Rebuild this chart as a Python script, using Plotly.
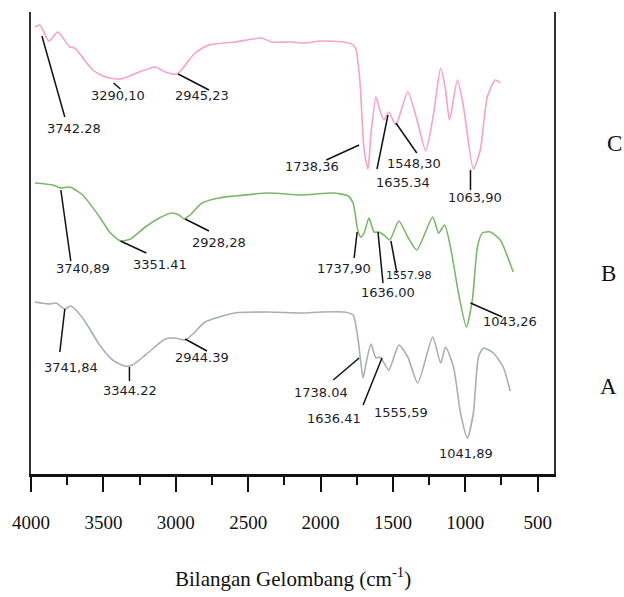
import plotly.graph_objects as go

# ---- data (wavenumber cm-1, offset transmittance a.u.) ----
wn_C = [3973, 3938, 3876, 3815, 3732, 3698, 3574, 3485, 3382, 3251, 3141, 3073, 2990, 2867, 2771,
        2592, 2407, 2338, 2201, 2111, 1995, 1837, 1775, 1754, 1727, 1699, 1672, 1651, 1617, 1596,
        1562, 1528, 1480, 1397, 1328, 1273, 1218, 1170, 1136, 1109, 1054, 1012, 944, 896, 848, 793, 758]
t_C = [89.4, 89.8, 86.6, 88.4, 85.4, 85.2, 80.8, 79.4, 79.0, 80.4, 81.4, 80.4, 80.0, 84.2, 85.8,
       86.4, 87.2, 86.4, 86.4, 86.2, 86.6, 86.4, 85.8, 84.8, 78.2, 64.8, 61.0, 68.2, 75.4, 73.4,
       70.8, 72.4, 69.8, 76.4, 70.2, 64.6, 72.2, 81.2, 76.8, 70.8, 78.8, 73.4, 61.0, 64.8, 75.4, 78.8, 78.2]

wn_B = [3973, 3849, 3794, 3732, 3643, 3526, 3457, 3382, 3313, 3210, 3114, 3025, 2977, 2942, 2901,
        2819, 2702, 2592, 2359, 2132, 1905, 1809, 1775, 1740, 1720, 1699, 1665, 1630, 1596, 1562,
        1521, 1459, 1397, 1335, 1225, 1184, 1143, 1102, 1047, 992, 951, 916, 882, 827, 758, 669]
t_B = [58.2, 57.8, 57.2, 57.4, 55.8, 51.4, 48.4, 46.6, 47.0, 49.4, 51.2, 52.2, 51.8, 51.0, 51.8,
       54.2, 55.2, 55.6, 56.2, 55.8, 56.2, 55.6, 54.2, 48.4, 47.4, 48.2, 51.2, 48.4, 48.4, 47.8,
       46.8, 50.6, 47.4, 44.8, 51.4, 48.2, 49.8, 45.4, 36.2, 29.4, 34.8, 45.4, 48.2, 48.4, 46.8, 40.4]

wn_A = [3973, 3870, 3828, 3766, 3725, 3643, 3526, 3437, 3354, 3299, 3210, 3073, 3004, 2935, 2874,
        2798, 2592, 2359, 2132, 1995, 1837, 1775, 1740, 1706, 1685, 1651, 1617, 1589, 1528, 1459,
        1397, 1328, 1225, 1170, 1136, 1081, 1033, 985, 944, 909, 875, 806, 738, 690]
t_A = [34.4, 34.0, 34.2, 33.0, 33.6, 31.2, 25.8, 22.8, 21.6, 21.8, 23.8, 27.0, 27.2, 26.8, 28.2,
       30.4, 32.2, 32.4, 32.2, 32.4, 32.4, 31.8, 26.8, 19.2, 22.2, 26.0, 23.2, 23.4, 20.8, 25.8,
       23.4, 18.2, 27.4, 22.2, 25.4, 21.4, 12.2, 7.2, 12.2, 23.4, 25.2, 24.2, 21.4, 16.6]

x_ticks = [4000, 3500, 3000, 2500, 2000, 1500, 1000, 500]
x_title = "Bilangan Gelombang (cm<sup>-1</sup>)"
series_names = ["C", "B", "A"]

# peak labels: text, label position (px), leader line (px) or None, small font flag
peak_labels = [
    ("3742.28", (71, 128), (39, 36, 62, 117), False),
    ("3290,10", (116, 96), (111, 83, 118, 89), False),
    ("2945,23", (200, 96), (176, 74, 207, 90), False),
    ("1738,36", (311, 166), (325, 160, 358, 145), False),
    ("1635.34", (402, 182), (376, 169, 387, 115), False),
    ("1548,30", (413, 163), (395, 123, 416, 153), False),
    ("1063,90", (475, 197), (470, 170, 470, 190), False),
    ("3740,89", (80, 268), (58, 190, 68, 261), False),
    ("3351.41", (158, 264), (118, 241, 144, 253), False),
    ("2928,28", (217, 242), (183, 219, 207, 231), False),
    ("1737,90", (343, 268), (356, 232, 353, 258), False),
    ("1636.00", (387, 292), (377, 232, 382, 283), False),
    ("1557.98", (408, 275), (390, 241, 396, 273), True),
    ("1043,26", (510, 321), (470, 303, 502, 317), False),
    ("3741,84", (68, 367), (62, 309, 57, 352), False),
    ("3344.22", (128, 390), (127, 367, 127, 381), False),
    ("2944.39", (200, 357), (183, 339, 205, 351), False),
    ("1738.04", (320, 392), (332, 380, 358, 358), False),
    ("1636.41", (333, 418), (362, 405, 381, 358), False),
    ("1555,59", (400, 412), None, False),
    ("1041,89", (465, 453), None, False),
]

SERIF = "Liberation Serif, Times New Roman, Times, serif"

# ---- layout geometry (pixels) ----
W, H = 624, 597
L, R, T, B = 28, 70, 12, 123
PW, PH = W - L - R, H - T - B


def fx(px):
    return (px - L) / PW


def fy(py):
    return (H - B - py) / PH


fig = go.Figure()
colors = {"C": "#F3A3CC", "B": "#7CB86C", "A": "#A8AFB8"}
for name, xs, ys in [("C", wn_C, t_C), ("B", wn_B, t_B), ("A", wn_A, t_A)]:
    fig.add_trace(go.Scatter(x=xs, y=ys, mode="lines", name=name,
                             line=dict(color=colors[name], width=1.6, shape="spline", smoothing=0.6),
                             showlegend=False, hoverinfo="skip"))

annotations = []
shapes = []
for text, (tx, ty), ln, small in peak_labels:
    annotations.append(dict(x=fx(tx), y=fy(ty), xref="paper", yref="paper", text=text,
                            showarrow=False, xanchor="center", yanchor="middle",
                            font=dict(family="DejaVu Sans", size=11 if small else 13, color="#1d1d2b")))
    if ln:
        x0, y0, x1, y1 = ln
        shapes.append(dict(type="line", xref="paper", yref="paper",
                           x0=fx(x0), y0=fy(y0), x1=fx(x1), y1=fy(y1),
                           line=dict(color="#111111", width=1.5)))

for name, (px, py) in zip(series_names, [(615, 143), (609, 273), (609, 386)]):
    annotations.append(dict(x=fx(px), y=fy(py), xref="paper", yref="paper", text=name,
                            showarrow=False, xanchor="center", yanchor="middle",
                            font=dict(family=SERIF, size=23, color="#111111")))

annotations.append(dict(x=fx(291), y=fy(577), xref="paper", yref="paper", text=x_title,
                        showarrow=False, xanchor="center", yanchor="middle",
                        font=dict(family=SERIF, size=21, color="#111111")))

fig.update_layout(
    width=W, height=H,
    margin=dict(l=L, r=R, t=T, b=B, pad=0),
    paper_bgcolor="white", plot_bgcolor="white",
    font=dict(family=SERIF),
    annotations=annotations, shapes=shapes,
    xaxis=dict(range=[4000, 387], tickvals=x_ticks, ticktext=[str(v) for v in x_ticks],
               showgrid=False, zeroline=False, showline=True, linecolor="#111111", linewidth=2.5,
               ticks="outside", ticklen=15, tickwidth=2, tickcolor="#111111",
               minor=dict(dtick=250, tick0=0, ticks="outside", ticklen=8, tickwidth=2, tickcolor="#111111"),
               ticklabelstandoff=14,
               tickfont=dict(family=SERIF, size=19, color="#111111")),
    yaxis=dict(range=[0, 92.4], showgrid=False, zeroline=False, showticklabels=False,
               showline=True, mirror=True, linecolor="#333333", linewidth=2, ticks=""),
)

fig.write_html("out.html")
